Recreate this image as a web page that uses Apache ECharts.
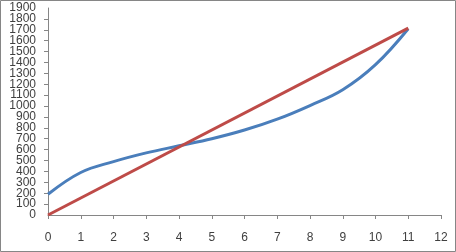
<!DOCTYPE html>
<html>
<head>
<meta charset="utf-8">
<script src="https://cdn.jsdelivr.net/npm/echarts@6/dist/echarts.min.js"></script>
<style>
html,body{margin:0;padding:0;background:#fff;}
#c{width:456px;height:252px;}
</style>
</head>
<body>
<div id="c"></div>
<script>
var blueX = [0, 1, 2, 3, 4, 5, 6, 7, 8, 9, 10, 11];
var blueY = [190, 390, 490, 570, 635, 700, 780, 880, 1005, 1150, 1380, 1710];
var redX = [0, 11];
var redY = [0, 1715];
var yMin = 0, yMax = 1900, yStep = 100;

var chart = echarts.init(document.getElementById('c'), null, {renderer: 'canvas'});
function labelFont(extra) {
  var o = {color: '#404040', fontFamily: 'Liberation Sans, Arial, sans-serif', fontSize: 12,
    hideOverlap: false,
    formatter: function (v) { return String(v); }};
  for (var k in extra) o[k] = extra[k];
  return o;
}
chart.setOption({
  animation: false,
  backgroundColor: '#ffffff',
  graphic: [{
    type: 'rect',
    shape: {x: 0.5, y: 0.5, width: 455, height: 251},
    style: {fill: 'none', stroke: '#868686', lineWidth: 1},
    silent: true
  }],
  grid: {left: 48, right: 15, top: 8, bottom: 37},
  xAxis: {
    type: 'value', min: 0, max: 12, interval: 1,
    axisLine: {show: true, lineStyle: {color: '#868686', width: 1}},
    axisTick: {show: true, inside: false, length: 4, lineStyle: {color: '#868686'}},
    splitLine: {show: false},
    axisLabel: labelFont({margin: 17, showMinLabel: true, showMaxLabel: true})
  },
  yAxis: [{
    type: 'value', min: yMin, max: yMax, interval: yStep, position: 'left',
    axisLine: {show: true, lineStyle: {color: '#868686', width: 1}},
    axisTick: {show: true, inside: false, length: 4, lineStyle: {color: '#868686'}},
    splitLine: {show: false},
    axisLabel: labelFont({margin: 12, showMinLabel: false, showMaxLabel: false})
  }, {
    type: 'value', min: yMin, max: yMax, interval: yMax - yMin, position: 'left', offset: 0,
    axisLine: {show: false},
    axisTick: {show: false},
    splitLine: {show: false},
    axisLabel: labelFont({margin: 12, showMinLabel: true, showMaxLabel: true})
  }],
  series: [{
    type: 'line',
    data: blueX.map(function (x, i) { return [x, blueY[i]]; }),
    smooth: 0.4,
    showSymbol: false,
    lineStyle: {color: '#4A7EBB', width: 3},
    itemStyle: {color: '#4A7EBB'}
  }, {
    type: 'line',
    data: redX.map(function (x, i) { return [x, redY[i]]; }),
    showSymbol: false,
    lineStyle: {color: '#BE4B48', width: 3},
    itemStyle: {color: '#BE4B48'}
  }]
});
</script>
</body>
</html>
